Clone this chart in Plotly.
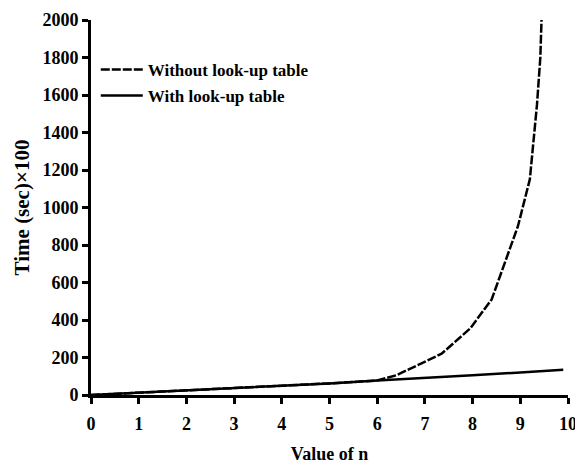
import plotly.graph_objects as go

n_without = [0, 1, 2, 3, 4, 5, 6, 6.4, 7.35, 7.95, 8.4, 8.95, 9.2, 9.35, 9.42, 9.45]
t_without = [0, 12, 25, 38, 50, 62, 77, 105, 220, 355, 510, 900, 1150, 1550, 1800, 2040]

n_with = [0, 1, 2, 3, 4, 5, 6, 7, 8, 9, 9.9]
t_with = [0, 12, 25, 38, 50, 62, 77, 90, 105, 120, 135]

x_ticks = list(range(0, 11))
y_ticks = list(range(0, 2001, 200))

font_family = "Liberation Serif"

fig = go.Figure()
fig.add_trace(go.Scatter(x=n_without, y=t_without, mode="lines",
                         name="Without look-up table", legendgroup="a",
                         line=dict(color="black", width=2.5, dash="9px,2px")))
fig.add_trace(go.Scatter(x=n_with, y=t_with, mode="lines",
                         name="With look-up table", legendgroup="b",
                         line=dict(color="black", width=2.5)))

axis_common = dict(showgrid=False, zeroline=False, showline=True, linecolor="black",
                   linewidth=3, ticks="outside", ticklen=6, tickwidth=3, tickcolor="black",
                   automargin=False,
                   tickfont=dict(family=font_family, size=18, color="black", weight="bold"))

# page body has an 8px margin, so the figure is sized/offset accordingly
fig.update_layout(
    width=575, height=456,
    margin=dict(l=83, r=15, t=12, b=69),
    paper_bgcolor="white", plot_bgcolor="white",
    font=dict(family=font_family, color="black"),
    showlegend=True,
    legend=dict(x=0.01, y=0.915, xanchor="left", yanchor="top",
                bgcolor="rgba(0,0,0,0)",
                font=dict(family=font_family, size=17, color="black", weight="bold"),
                traceorder="grouped", tracegroupgap=1, itemwidth=42),
    xaxis=dict(range=[0, 10], tickvals=x_ticks, ticklabelstandoff=4,
               title=dict(text="Value of n", standoff=16,
                          font=dict(family=font_family, size=18, color="black", weight="bold")),
               **axis_common),
    yaxis=dict(range=[0, 2000], tickvals=y_ticks,
               title=dict(text="Time (sec)×100", standoff=8,
                          font=dict(family=font_family, size=21, color="black", weight="bold")),
               **axis_common),
)

fig.write_html("out.html")
